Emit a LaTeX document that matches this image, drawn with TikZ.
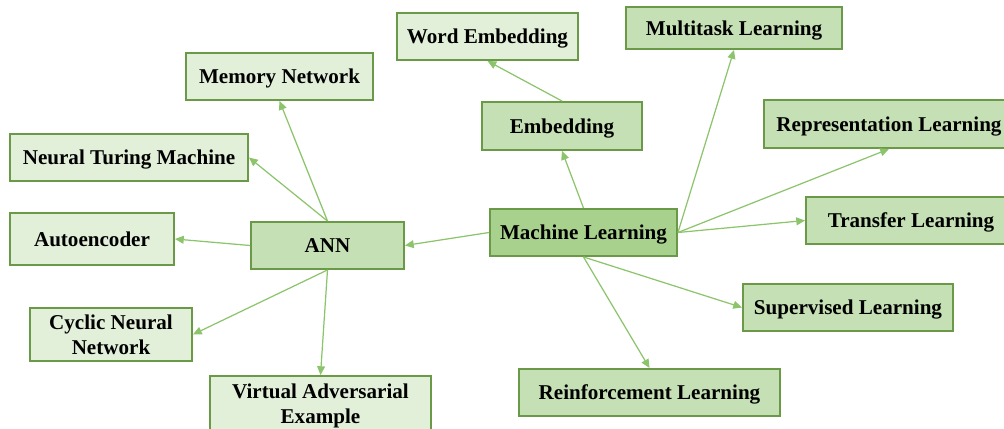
\documentclass[tikz,border=0pt]{standalone}
\usepackage{fontspec}
\setmainfont{Liberation Serif}
\usepackage{xcolor}
\usepackage{tikz}
\usetikzlibrary{arrows.meta, positioning}
\definecolor{edgegreen}{RGB}{106,153,72}
\definecolor{linkgreen}{RGB}{140,196,108}
\definecolor{rootfill}{RGB}{169,209,142}
\definecolor{midfill}{RGB}{197,224,180}
\definecolor{leaffill}{RGB}{226,240,217}

\begin{document}
\begin{tikzpicture}[
    x=0.02cm, y=-0.02cm,
    box/.style={rectangle, draw=edgegreen, line width=1.1pt, align=center, inner sep=0pt, text depth=0pt, font=\bfseries\fontsize{12}{14.2}\selectfont, text=black},
    root/.style={box, fill=rootfill},
    topic/.style={box, fill=midfill},
    leaf/.style={box, fill=leaffill},
    link/.style={draw=linkgreen, line width=0.7pt, -{Triangle[length=5pt, width=4.5pt]}}
]
\useasboundingbox (0,0) rectangle (1004,429);

% central node and first level
\node[root, minimum width=3.74cm, minimum height=0.94cm] (ml) at (583.5,232.5) {Machine Learning};
\node[topic, minimum width=3.06cm, minimum height=0.94cm] (ann) at (327.5,245.5) {ANN};
\node[topic, minimum width=3.2cm, minimum height=0.96cm] (emb) at (562,126) {Embedding};
\node[topic, minimum width=4.32cm, minimum height=0.84cm] (multi) at (734,28) {Multitask Learning};
\node[topic, minimum width=5cm, minimum height=0.96cm] (repr) at (889,124) {Representation Learning};
\node[topic, minimum width=4.2cm, minimum height=0.94cm] (transfer) at (911,220.5) {Transfer Learning};
\node[topic, minimum width=4.2cm, minimum height=0.94cm] (superv) at (848,307.5) {Supervised Learning};
\node[topic, minimum width=5.22cm, minimum height=0.94cm] (reinf) at (649.5,392.5) {Reinforcement Learning};

% second level
\node[leaf, minimum width=3.62cm, minimum height=0.94cm] (wordemb) at (487.5,36.5) {Word Embedding};
\node[leaf, minimum width=3.74cm, minimum height=0.94cm] (memnet) at (279.5,76.5) {Memory Network};
\node[leaf, minimum width=4.76cm, minimum height=0.94cm] (ntm) at (129,157.5) {Neural Turing Machine};
\node[leaf, minimum width=3.28cm, minimum height=1.04cm] (autoenc) at (92,239) {Autoencoder};
\node[leaf, minimum width=3.24cm, minimum height=1.06cm] (cyclic) at (111,334.5) {Cyclic Neural\\Network};
\node[leaf, minimum width=4.42cm, minimum height=1.12cm] (virtual) at (320.5,404) {Virtual Adversarial\\Example};

\draw[link] (ml.west) -- (ann.east);
\draw[link] (ml.north) -- (emb.south);
\draw[link] (ml.east) -- (multi.south);
\draw[link] (ml.east) -- (repr.south);
\draw[link] (ml.east) -- (transfer.west);
\draw[link] (ml.south) -- (superv.west);
\draw[link] (ml.south) -- (reinf.north);

\draw[link] (emb.north) -- (wordemb.south);
\draw[link] (ann.north) -- (memnet.south);
\draw[link] (ann.north) -- (ntm.east);
\draw[link] (ann.west) -- (autoenc.east);
\draw[link] (ann.south) -- (cyclic.east);
\draw[link] (ann.south) -- (virtual.north);
\end{tikzpicture}
\end{document}
